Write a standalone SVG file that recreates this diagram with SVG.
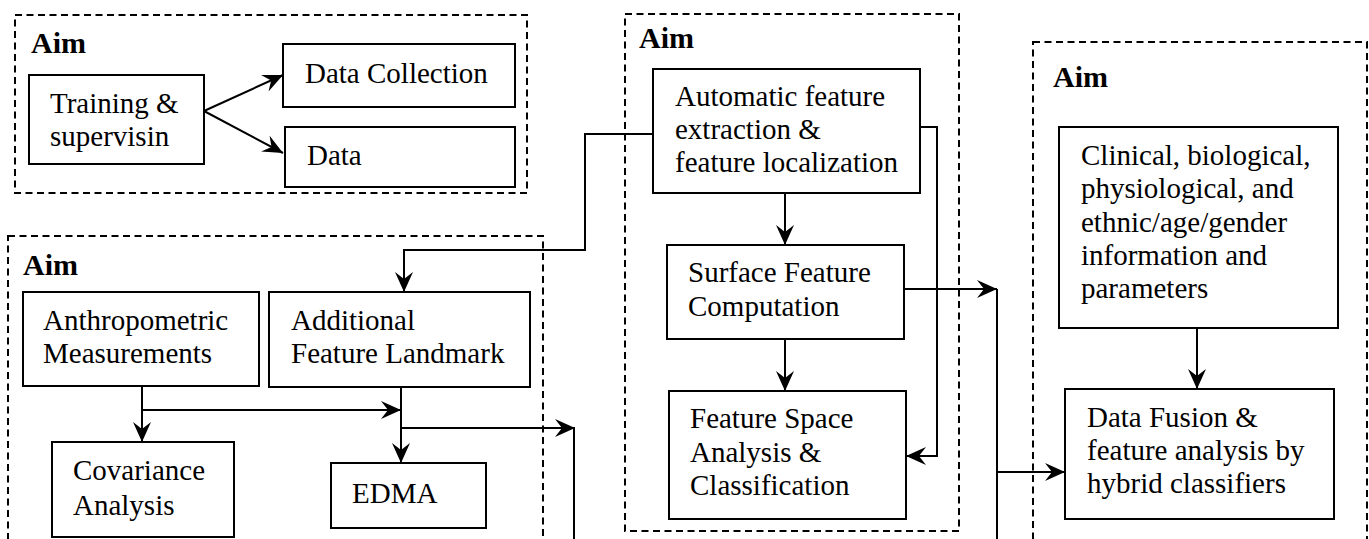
<svg xmlns="http://www.w3.org/2000/svg" width="1369" height="539" viewBox="0 0 1369 539">
<defs>
<marker id="ah" viewBox="0 0 20 18" refX="20" refY="9" markerWidth="20" markerHeight="18" markerUnits="userSpaceOnUse" orient="auto">
<path d="M0,0 L20,9 L0,18 L7,9 Z" fill="#000" stroke="none"/>
</marker>
</defs>
<rect fill="#fff" width="1369" height="539"/>

<g id="groups" fill="none" stroke="#000" stroke-width="2" stroke-dasharray="7,4.5">
<rect x="15" y="15" width="512" height="178"/>
<rect x="8" y="236" width="535" height="330"/>
<rect x="625" y="14" width="334" height="517"/>
<rect x="1033" y="42" width="334" height="530"/>
</g>
<g id="group-titles" font-family="Liberation Serif" font-size="30" font-weight="bold" fill="#000">
<text x="31" y="53">Aim</text>
<text x="23" y="275">Aim</text>
<text x="639" y="48">Aim</text>
<text x="1053" y="87">Aim</text>
</g>

<g id="connectors" fill="none" stroke="#000" stroke-width="2">
<g marker-end="url(#ah)">
<path d="M204,111 L283,75"/>
<path d="M204,111 L283,153"/>
<path d="M653,134 H585 V250 H404 V292"/>
<path d="M142,386 V442"/>
<path d="M142,410 H401"/>
<path d="M401,387 V463"/>
<path d="M401,428 H575"/>
<path d="M785,193 V245"/>
<path d="M785,339 V391"/>
<path d="M920,127 H937 V456 H906"/>
<path d="M904,289 H997"/>
<path d="M997,472 H1065"/>
<path d="M1197,328 V389"/>
</g>
<path d="M574,428 V545"/>
<path d="M997,289 V545"/>
</g>

<g id="nodes" font-family="Liberation Serif" font-size="29" fill="#000">
<g id="training">
<rect x="29" y="75" width="175" height="89" fill="#fff" stroke="#000" stroke-width="2"/>
<text x="50" y="113">Training &amp;</text>
<text x="50" y="146">supervisin</text>
</g>
<g id="data-collection">
<rect x="283" y="44" width="232" height="63" fill="#fff" stroke="#000" stroke-width="2"/>
<text x="305" y="83">Data Collection</text>
</g>
<g id="data">
<rect x="285" y="127" width="230" height="60" fill="#fff" stroke="#000" stroke-width="2"/>
<text x="307" y="165">Data</text>
</g>
<g id="anthropometric">
<rect x="23" y="292" width="236" height="94" fill="#fff" stroke="#000" stroke-width="2"/>
<text x="43" y="330">Anthropometric</text>
<text x="43" y="363">Measurements</text>
</g>
<g id="additional">
<rect x="269" y="292" width="261" height="95" fill="#fff" stroke="#000" stroke-width="2"/>
<text x="291" y="330">Additional</text>
<text x="291" y="363">Feature Landmark</text>
</g>
<g id="covariance">
<rect x="52" y="442" width="182" height="95" fill="#fff" stroke="#000" stroke-width="2"/>
<text x="73" y="480">Covariance</text>
<text x="73" y="515">Analysis</text>
</g>
<g id="edma">
<rect x="331" y="463" width="155" height="65" fill="#fff" stroke="#000" stroke-width="2"/>
<text x="352" y="503">EDMA</text>
</g>
<g id="automatic">
<rect x="653" y="69" width="267" height="124" fill="#fff" stroke="#000" stroke-width="2"/>
<text x="675" y="106">Automatic feature</text>
<text x="675" y="139">extraction &amp;</text>
<text x="675" y="172">feature localization</text>
</g>
<g id="surface">
<rect x="667" y="245" width="237" height="94" fill="#fff" stroke="#000" stroke-width="2"/>
<text x="688" y="282">Surface Feature</text>
<text x="688" y="316">Computation</text>
</g>
<g id="feature-space">
<rect x="669" y="391" width="237" height="128" fill="#fff" stroke="#000" stroke-width="2"/>
<text x="690" y="428">Feature Space</text>
<text x="690" y="462">Analysis &amp;</text>
<text x="690" y="495">Classification</text>
</g>
<g id="clinical">
<rect x="1059" y="127" width="279" height="201" fill="#fff" stroke="#000" stroke-width="2"/>
<text x="1081" y="165">Clinical, biological,</text>
<text x="1081" y="198">physiological, and</text>
<text x="1081" y="232">ethnic/age/gender</text>
<text x="1081" y="265">information and</text>
<text x="1081" y="298">parameters</text>
</g>
<g id="data-fusion">
<rect x="1065" y="389" width="269" height="130" fill="#fff" stroke="#000" stroke-width="2"/>
<text x="1087" y="427">Data Fusion &amp;</text>
<text x="1087" y="460">feature analysis by</text>
<text x="1087" y="493">hybrid classifiers</text>
</g>
</g>
</svg>
